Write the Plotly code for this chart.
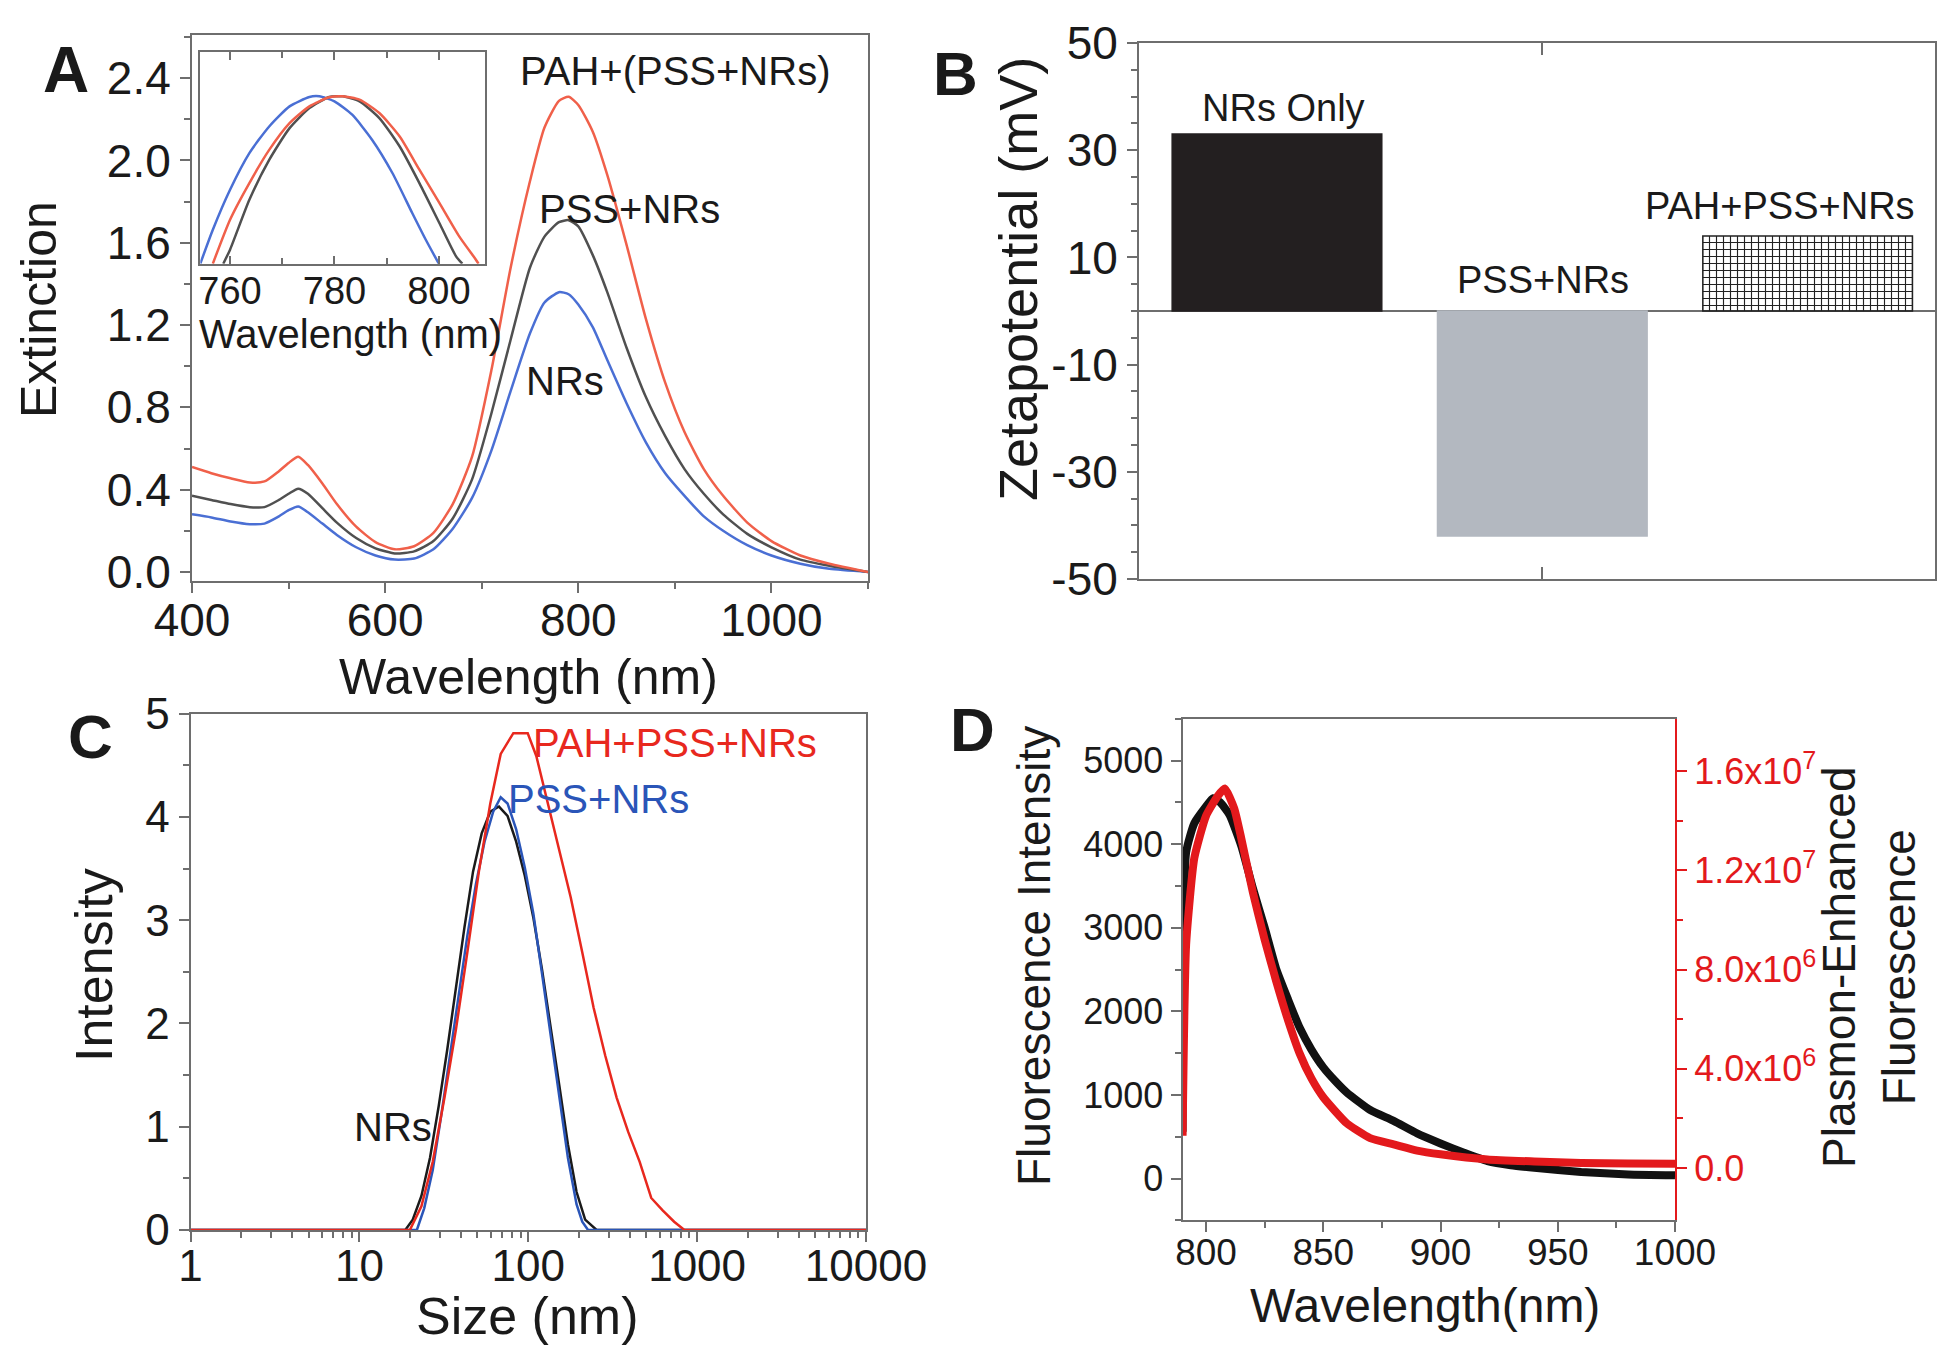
import plotly.graph_objects as go

# ---------------- data ----------------
# A: extinction spectra
wl_a = [400, 420, 440, 460, 475, 490, 500, 510, 520, 535, 550, 570, 590, 610, 630, 650, 670, 690,
        710, 730, 750, 765, 780, 790, 800, 815, 830, 850, 870, 890, 910, 930, 950, 975, 1000, 1030,
        1060, 1100]
ext_nrs = [0.28, 0.265, 0.245, 0.232, 0.235, 0.27, 0.30, 0.318, 0.29, 0.235, 0.18, 0.12, 0.08, 0.06,
           0.065, 0.11, 0.21, 0.36, 0.59, 0.88, 1.16, 1.31, 1.36, 1.35, 1.30, 1.19, 1.03, 0.82, 0.63,
           0.48, 0.37, 0.27, 0.20, 0.13, 0.08, 0.04, 0.015, 0.0]
ext_pss = [0.37, 0.35, 0.33, 0.315, 0.315, 0.35, 0.38, 0.405, 0.38, 0.31, 0.24, 0.165, 0.115, 0.09,
           0.10, 0.15, 0.26, 0.45, 0.77, 1.13, 1.48, 1.63, 1.70, 1.71, 1.68, 1.54, 1.36, 1.09, 0.85,
           0.66, 0.50, 0.38, 0.28, 0.185, 0.12, 0.06, 0.03, 0.0]
ext_pah = [0.51, 0.48, 0.455, 0.435, 0.44, 0.49, 0.53, 0.56, 0.52, 0.43, 0.33, 0.22, 0.145, 0.11,
           0.125, 0.19, 0.33, 0.56, 0.98, 1.48, 1.90, 2.16, 2.29, 2.31, 2.27, 2.14, 1.93, 1.59, 1.23,
           0.92, 0.68, 0.50, 0.37, 0.24, 0.15, 0.08, 0.04, 0.0]

# A inset: normalised peak region
ins_wl_nrs = [754.3, 756.7, 760, 763.7, 767.5, 771.4, 775.2, 777.1, 780, 783.4, 787.2, 791.1, 794.9, 797.5, 800]
ins_nrs = [0, 0.203, 0.442, 0.661, 0.82, 0.94, 0.996, 1.0, 0.97, 0.89, 0.741, 0.542, 0.303, 0.143, 0]
ins_wl_pss = [758.7, 760, 763.7, 767.5, 771.4, 775.2, 779, 781.6, 784.8, 788.6, 792.5, 796.3, 800.1, 803.3, 804.5]
ins_pss = [0, 0.084, 0.382, 0.62, 0.81, 0.93, 0.996, 1.0, 0.97, 0.87, 0.70, 0.48, 0.243, 0.044, 0]
ins_wl_pah = [756.7, 760, 763.7, 767.5, 771.4, 775.2, 779, 781.6, 784.8, 788.6, 792.5, 796.3, 800.1, 803.9, 807.1, 807.6]
ins_pah = [0, 0.263, 0.482, 0.68, 0.84, 0.94, 0.994, 1.0, 0.98, 0.90, 0.76, 0.56, 0.363, 0.163, 0.024, 0]

# B: zeta potential
zeta_samples = ["NRs Only", "PSS+NRs", "PAH+PSS+NRs"]
zeta_mv = [33, -42, 14]
zeta_ticks = [-50, -30, -10, 10, 30, 50]
zeta_ticktext = ["-50", "-30", "-10", "10", "30", "50"]

# C: DLS size distribution
size_nrs = [1, 18.7, 20.7, 23.3, 26.2, 29.5, 33.1, 37.3, 41.9, 47.1, 53.0, 59.6, 67.1, 75.4, 84.8,
            95.4, 107.3, 120.7, 135.7, 152.7, 171.7, 193.1, 217.2, 254, 10000]
int_nrs = [0, 0, 0.10, 0.33, 0.70, 1.20, 1.74, 2.36, 2.93, 3.47, 3.84, 4.05, 4.10, 4.01, 3.76,
           3.43, 3.02, 2.52, 1.98, 1.40, 0.83, 0.37, 0.10, 0, 0]
size_pss = [1, 21.9, 24.2, 27.2, 30.6, 34.5, 38.8, 43.6, 49.0, 55.1, 62.0, 68.7, 75.4, 84.8, 95.4,
            107.3, 120.7, 135.7, 152.7, 171.7, 193.1, 208.8, 226, 10000]
int_pss = [0, 0, 0.21, 0.58, 1.12, 1.69, 2.27, 2.85, 3.35, 3.76, 4.05, 4.19, 4.13, 3.88, 3.51,
           3.06, 2.48, 1.90, 1.32, 0.70, 0.25, 0.08, 0, 0]
size_pah = [1, 19.9, 23.3, 27.2, 31.9, 37.3, 43.6, 51.0, 59.6, 68.7, 81.6, 99.3, 111.6, 130.6, 152.7,
            178.5, 208.8, 244, 285.6, 334, 390.7, 457, 535, 625, 731, 841, 10000]
int_pah = [0, 0, 0.23, 0.66, 1.28, 1.94, 2.69, 3.47, 4.13, 4.61, 4.81, 4.81, 4.59, 4.13, 3.68,
           3.22, 2.69, 2.15, 1.69, 1.28, 0.95, 0.66, 0.31, 0.19, 0.08, 0, 0]
size_ticks = [1, 10, 100, 1000, 10000]

# D: fluorescence
fl_wl = [790, 791.5, 795, 800, 803, 806, 810, 815, 820, 825, 830, 835, 840, 845, 850, 855, 860, 870,
         880, 890, 900, 910, 920, 930, 940, 960, 980, 1000]
fl_counts = [560, 3900, 4250, 4450, 4550, 4500, 4350, 3980, 3470, 3000, 2500, 2140, 1800, 1540, 1330,
             1170, 1030, 820, 690, 540, 420, 310, 210, 160, 130, 80, 50, 40]
pef_wl = [790, 791.5, 795, 800, 805, 808, 812, 815, 820, 825, 830, 835, 840, 845, 850, 860, 870, 880,
          890, 900, 920, 940, 960, 980, 1000]
pef_counts = [1.3e6, 9.0e6, 1.25e7, 1.42e7, 1.5e7, 1.53e7, 1.45e7, 1.33e7, 1.11e7, 9.2e6, 7.5e6, 5.95e6,
              4.6e6, 3.6e6, 2.85e6, 1.8e6, 1.2e6, 9.5e5, 7.0e5, 5.5e5, 3.4e5, 2.6e5, 2.0e5, 1.8e5, 1.7e5]

pef_ticks = [0, 4e6, 8e6, 1.2e7, 1.6e7]
pef_ticktext = ["0.0", "4.0x10<sup>6</sup>", "8.0x10<sup>6</sup>", "1.2x10<sup>7</sup>", "1.6x10<sup>7</sup>"]

# ---------------- layout helpers ----------------
W, H = 1950, 1349
FONT = "Liberation Sans, Arial, sans-serif"
AX = "#6e6e6e"
TXT = "#1a1a1a"


def xd(x0, x1):
    return [x0 / W, x1 / W]


def yd(top, bottom):
    return [1 - bottom / H, 1 - top / H]


def frame(size, **kw):
    d = dict(showline=True, linecolor=AX, linewidth=2, mirror=True, showgrid=False, zeroline=False,
             ticks="outside", ticklen=10, tickwidth=2, tickcolor=AX, automargin=False,
             tickfont=dict(family=FONT, size=size, color=TXT))
    d.update(kw)
    return d


def inner(**kw):
    # overlay axis that only carries inward ticks on the top / right frame
    d = dict(showline=False, showgrid=False, zeroline=False, ticks="inside", ticklen=10, tickwidth=2,
             tickcolor=AX, showticklabels=False, automargin=False)
    d.update(kw)
    return d


def minor(dtick=None, ticks="outside", **kw):
    d = dict(ticks=ticks, ticklen=6, tickwidth=2, tickcolor=AX)
    if dtick is not None:
        d["dtick"] = dtick
    d.update(kw)
    return d


def label(text, px, py, size, color=TXT, angle=0):
    return dict(text=text, x=px / W, y=1 - py / H, xref="paper", yref="paper", showarrow=False,
                xanchor="center", yanchor="middle", textangle=angle,
                font=dict(family=FONT, size=size, color=color))


fig = go.Figure()

# ---- A ----
for x, y, c in [(wl_a, ext_nrs, "#4a6fd4"), (wl_a, ext_pss, "#505050"), (wl_a, ext_pah, "#f0604a")]:
    fig.add_trace(go.Scatter(x=x, y=y, mode="lines", line=dict(color=c, width=2.5, shape="spline", smoothing=0.6),
                             xaxis="x", yaxis="y"))
for x, y, c in [(ins_wl_nrs, ins_nrs, "#4a6fd4"), (ins_wl_pss, ins_pss, "#505050"), (ins_wl_pah, ins_pah, "#f0604a")]:
    fig.add_trace(go.Scatter(x=x, y=y, mode="lines", line=dict(color=c, width=2.5, shape="spline", smoothing=0.6),
                             xaxis="x3", yaxis="y3"))

# ---- B ----
fig.add_trace(go.Bar(
    x=zeta_samples, y=zeta_mv, xaxis="x4", yaxis="y4", width=0.79,
    marker=dict(color=["#231f20", "#b3b8c0", "#222222"],
                line=dict(color=["#231f20", "#b3b8c0", "#222222"], width=1.5),
                pattern=dict(shape=["", "", "+"], bgcolor=["#231f20", "#b3b8c0", "white"],
                             size=7, solidity=0.3, fillmode="replace")),
))

# ---- C ----
for x, y, c in [(size_nrs, int_nrs, "#1a1a1a"), (size_pss, int_pss, "#2a55b8"), (size_pah, int_pah, "#e8281e")]:
    fig.add_trace(go.Scatter(x=x, y=y, mode="lines", line=dict(color=c, width=2.5), xaxis="x5", yaxis="y6"))

# ---- D ----
fig.add_trace(go.Scatter(x=fl_wl, y=fl_counts, mode="lines",
                         line=dict(color="#111111", width=8, shape="spline", smoothing=0.5),
                         xaxis="x7", yaxis="y8"))
fig.add_trace(go.Scatter(x=pef_wl, y=pef_counts, mode="lines",
                         line=dict(color="#e3191c", width=8, shape="spline", smoothing=0.5),
                         xaxis="x7", yaxis="y9"))

A_x, A_y = xd(184, 860), yd(27, 573)
A_xr, A_yr = [400, 1100], [-0.044, 2.61]
I_x, I_y = xd(192.3, 477.3), yd(44.3, 255.7)
B_x, B_y = xd(1131, 1927), yd(35, 571)
C_x, C_y = xd(182.5, 858), yd(705.6, 1222)
D_x, D_y = xd(1174.6, 1667), yd(710.7, 1212.4)
D_xr, D_yr, D_y2r = [790, 1000], [-500, 5500], [-2.116e6, 1.8116e7]

log_minor = [m * 10 ** k for k in range(4) for m in range(2, 10)]

fig.update_layout(
    width=W, height=H, margin=dict(l=0, r=0, t=0, b=0, autoexpand=False),
    paper_bgcolor="white", plot_bgcolor="white", showlegend=False,
    font=dict(family=FONT, color=TXT),
    # A
    xaxis=frame(46, domain=A_x, anchor="y", range=A_xr, tick0=400, dtick=200, minor=minor(100),
                ticklabelstandoff=-12),
    yaxis=frame(46, domain=A_y, anchor="x", range=A_yr, tick0=0, dtick=0.4, tickformat=".1f", minor=minor(0.2)),
    xaxis2=inner(overlaying="x", side="top", anchor="y", range=A_xr, tick0=400, dtick=200,
                 minor=minor(100, "inside")),
    yaxis2=inner(overlaying="y", side="right", anchor="x", range=A_yr, tick0=0, dtick=0.4,
                 minor=minor(0.2, "inside")),
    # A inset
    xaxis3=frame(38, domain=I_x, anchor="y3", range=[754.3, 808.9], tick0=760, dtick=20, ticks="inside",
                 ticklen=8, mirror="ticks", minor=minor(10, "inside"), ticklabelstandoff=-7),
    yaxis3=frame(36, domain=I_y, anchor="x3", range=[0, 1.263], ticks="", showticklabels=False),
    # B
    xaxis4=frame(44, domain=B_x, anchor="y4", type="category", range=[-0.52, 2.48], tickmode="array",
                 tickvals=[1], ticktext=[""], ticks="inside", ticklen=12, mirror="ticks"),
    yaxis4=frame(46, domain=B_y, anchor="x4", range=[-50, 50], tickmode="array", tickvals=zeta_ticks,
                 ticktext=zeta_ticktext, minor=minor(5), zeroline=True, zerolinecolor=AX, zerolinewidth=2),
    yaxis5=inner(overlaying="y4", side="right", anchor="x4", range=[-50, 50], tick0=10, dtick=20,
                 minor=minor(5, "inside")),
    # C
    xaxis5=frame(44, domain=C_x, anchor="y6", type="log", range=[0, 4], tickmode="array",
                 tickvals=size_ticks, ticktext=[str(v) for v in size_ticks],
                 minor=minor(tickmode="array", tickvals=log_minor), ticklabelstandoff=-14),
    yaxis6=frame(44, domain=C_y, anchor="x5", range=[0, 5], dtick=1, minor=minor(0.5)),
    xaxis6=inner(overlaying="x5", side="top", anchor="y6", type="log", range=[0, 4], tickmode="array",
                 tickvals=size_ticks, minor=minor(ticks="inside", tickmode="array", tickvals=log_minor)),
    yaxis7=inner(overlaying="y6", side="right", anchor="x5", range=[0, 5], dtick=1, minor=minor(0.5, "inside")),
    # D
    xaxis7=frame(37, domain=D_x, anchor="y8", range=D_xr, tick0=800, dtick=50, minor=minor(25),
                 ticklabelstandoff=-12),
    yaxis8=frame(36, domain=D_y, anchor="x7", range=D_yr, tick0=0, dtick=1000, minor=minor(500), mirror=False),
    xaxis8=inner(overlaying="x7", side="top", anchor="y8", range=D_xr, tick0=800, dtick=50,
                 ticklen=8, minor=minor(25, "inside")),
    yaxis9=frame(36, overlaying="y8", side="right", anchor="x7", range=D_y2r, tickmode="array",
                 tickvals=pef_ticks, ticktext=pef_ticktext, mirror=False, linecolor="#e3191c",
                 tickcolor="#e3191c", tickfont=dict(family=FONT, size=36, color="#e3191c"),
                 minor=minor(tickmode="array", tickvals=[2e6, 6e6, 1.0e7, 1.4e7], tickcolor="#e3191c")),
    annotations=[
        label("<b>A</b>", 58, 62, 64),
        label("<b>B</b>", 947, 65, 62),
        label("<b>C</b>", 82, 729, 62),
        label("<b>D</b>", 964, 722, 62),
        # A
        label("PAH+(PSS+NRs)", 667, 63, 40),
        label("PSS+NRs", 621, 201, 40),
        label("NRs", 557, 373, 40),
        label("Wavelength (nm)", 342, 326, 40),
        label("Wavelength (nm)", 520, 669, 50),
        label("Extinction", 31, 302, 50, angle=-90),
        # B
        label("Zetapotential (mV)", 1010, 271, 54, angle=-90),
        label("NRs Only", 1275, 100, 38),
        label("PSS+NRs", 1535, 272, 38),
        label("PAH+PSS+NRs", 1772, 198, 38),
        # C
        label("PAH+PSS+NRs", 667, 735, 40, color="#e8281e"),
        label("PSS+NRs", 590, 791, 40, color="#2a55b8"),
        label("NRs", 385, 1119, 40),
        label("Size (nm)", 519, 1308, 52),
        label("Intensity", 86, 957, 52, angle=-90),
        # D
        label("Fluorescence Intensity", 1026, 948, 46, angle=-90),
        label("Plasmon-Enhanced<br>Fluorescence", 1861, 960, 46, angle=-90),
        label("Wavelength(nm)", 1417, 1297, 48),
    ],
)

fig.write_html("out.html")
